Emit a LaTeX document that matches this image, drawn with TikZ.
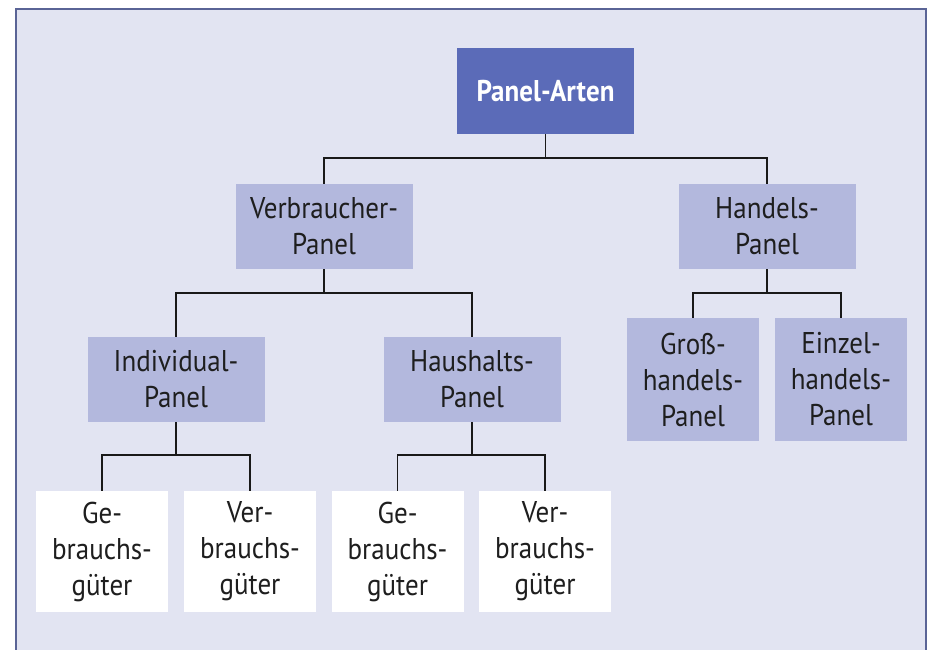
\documentclass[tikz,border=0pt]{standalone}
\usepackage{fontspec}
\setmainfont{PT Sans}[FakeStretch=0.9]
\definecolor{framefill}{HTML}{E2E4F2}
\definecolor{frameline}{HTML}{5A6496}
\definecolor{topblue}{HTML}{5B6BB8}
\definecolor{midblue}{HTML}{B3B8DD}
\definecolor{textgrey}{HTML}{1E1E1E}

\begin{document}
\begin{tikzpicture}[x=1pt,y=-1pt,
        topbox/.style={fill=topblue, text=white, font=\fontsize{30}{36}\selectfont\bfseries,
                       minimum width=177pt, minimum height=86pt, inner sep=0pt, align=center},
        midbox/.style={fill=midblue, text=textgrey, font=\fontsize{30}{36}\selectfont,
                       minimum width=177pt, minimum height=85pt, inner sep=0pt, align=center},
        smallbox/.style={midbox, minimum width=132pt, minimum height=123pt},
        leafbox/.style={midbox, fill=white, minimum width=132pt, minimum height=121pt},
        link/.style={line width=1.6pt, black!90}]
        \useasboundingbox (0,0) rectangle (930,650);
        \draw [fill=framefill, draw=frameline, line width=2pt] (16,9) rectangle (926,670);
        % top and second level
        \node [topbox] (arten) at (545.5,91) {Panel-Arten};
        \node [midbox] (verb) at (324,226.5) {Verbraucher-\\Panel};
        \node [midbox] (handel) at (767,226.5) {Handels-\\Panel};
        % third level
        \node [midbox] (indiv) at (176,379.5) {Individual-\\Panel};
        \node [midbox] (haus) at (472,379.5) {Haushalts-\\Panel};
        \node [smallbox] (gross) at (693,379.5) {Groß-\\handels-\\Panel};
        \node [smallbox] (einzel) at (841,379.5) {Einzel-\\handels-\\Panel};
        % leaves
        \node [leafbox] (indivge) at (102,551.5) {Ge-\\brauchs-\\güter};
        \node [leafbox] (indivver) at (250,551.5) {Ver-\\brauchs-\\güter};
        \node [leafbox] (hausge) at (397.5,551.5) {Ge-\\brauchs-\\güter};
        \node [leafbox] (hausver) at (545,551.5) {Ver-\\brauchs-\\güter};
        % connectors
        \foreach \c in {verb,handel}
            \draw [link] (arten.south) -- ++(0,24) -| (\c.north);
        \foreach \c in {indiv,haus}
            \draw [link] (verb.south) -- ++(0,24) -| (\c.north);
        \foreach \c in {gross,einzel}
            \draw [link] (handel.south) -- ++(0,24) -| (\c.north);
        \foreach \c in {indivge,indivver}
            \draw [link] (indiv.south) -- ++(0,33) -| (\c.north);
        \foreach \c in {hausge,hausver}
            \draw [link] (haus.south) -- ++(0,33) -| (\c.north);
\end{tikzpicture}
\end{document}
